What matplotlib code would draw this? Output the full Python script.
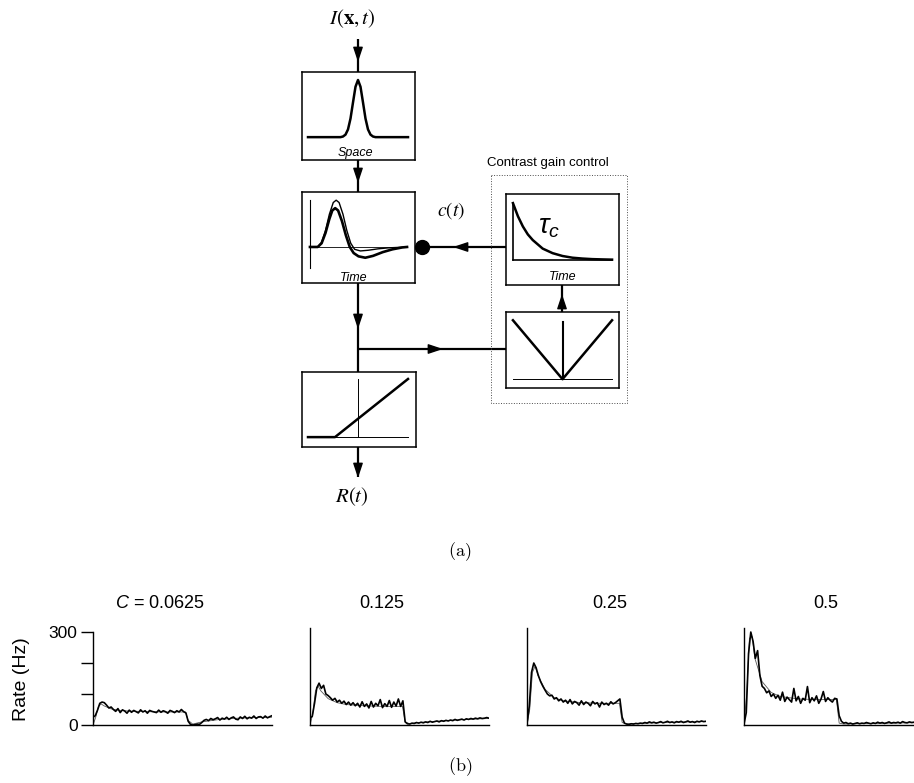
import numpy as np
import matplotlib
matplotlib.use('Agg')
import matplotlib.pyplot as plt

plt.rcParams['font.family'] = ['Liberation Sans', 'DejaVu Sans']
plt.rcParams['mathtext.fontset'] = 'custom'
plt.rcParams['mathtext.it'] = 'Liberation Sans:italic'
plt.rcParams['mathtext.rm'] = 'Liberation Sans'

W, H = 914, 783

# --- (a) little curves inside the boxes ---
space_x = [-1.0, -0.35, -0.3, -0.25, -0.2, -0.15, -0.1, -0.05, 0.0, 0.05, 0.1, 0.15, 0.2, 0.25, 0.3, 0.35, 1.0]
space_y = [0.0, 0.0, 0.011, 0.044, 0.135, 0.325, 0.607, 0.882, 1.0, 0.882, 0.607, 0.325, 0.135, 0.044, 0.011, 0.0, 0.0]

filt_t = [0.0, 0.08, 0.12, 0.16, 0.2, 0.24, 0.27, 0.3, 0.34, 0.38, 0.42, 0.46, 0.52, 0.6, 0.7, 0.8, 1.0]
filt_thin = [0.0, 0.0, 0.1, 0.35, 0.7, 0.95, 1.0, 0.95, 0.7, 0.35, 0.08, -0.05, -0.085, -0.07, -0.04, -0.02, 0.0]
filt_t2 = [0.0, 0.08, 0.12, 0.16, 0.2, 0.23, 0.26, 0.29, 0.33, 0.37, 0.41, 0.45, 0.5, 0.57, 0.65, 0.75, 0.85, 0.95, 1.0]
filt_thick = [0.0, 0.0, 0.08, 0.3, 0.6, 0.78, 0.83, 0.78, 0.55, 0.25, 0.0, -0.13, -0.2, -0.23, -0.19, -0.11, -0.05, -0.01, 0.0]

tau_t = [0.0, 0.05, 0.1, 0.15, 0.2, 0.3, 0.4, 0.5, 0.6, 0.7, 0.8, 0.9, 1.0]
tau_y = [1.0, 0.77, 0.59, 0.45, 0.35, 0.2, 0.12, 0.07, 0.04, 0.025, 0.015, 0.01, 0.006]

vee_x = [-1.0, 0.0, 1.0]
vee_y = [1.0, 0.0, 1.0]

rect_x = [-1.0, -0.46, 1.0]
rect_y = [0.0, 0.0, 1.0]

# --- (b) firing rates (Hz), stimulus on for the first 42 samples ---
contrasts = ['0.0625', '0.125', '0.25', '0.5']
dt = 0.025
rate_1 = [25, 30, 48, 70, 74, 72, 64, 55, 58,
          50, 44, 53, 40, 49, 45, 38, 48, 41, 47, 43, 39, 49, 42, 46, 38, 47, 44, 42, 40,
          48, 41, 46, 43, 38, 47, 44, 40, 46, 42, 50, 43, 39,
          12, 2, 0, 1, 3, 2, 8, 15, 18, 14, 21, 17, 20, 24, 16, 22, 19, 25, 18, 23,
          26, 19, 17, 26, 21, 28, 20, 25, 22, 29, 21, 26, 27, 22, 29, 23, 27, 30]
rate_2 = [22, 28, 70, 120, 135, 118, 128, 100, 95,
          88, 80, 86, 74, 80, 70, 77, 66, 74, 64, 72, 62, 70, 58, 75, 60, 68, 55, 76, 58,
          70, 62, 82, 56, 69, 60, 79, 57, 74, 61, 84, 60, 78,
          10, 4, 3, 6, 5, 8, 6, 9, 7, 10, 8, 12, 9, 11, 13, 10, 14, 12, 15, 13,
          16, 14, 18, 15, 17, 19, 16, 20, 18, 21, 19, 22, 20, 23, 21, 22, 24, 22]
rate_3 = [5, 60, 170, 200, 185, 160, 140, 125, 112,
          100, 94, 96, 84, 88, 78, 84, 74, 80, 70, 82, 68, 76, 72, 64, 78, 66, 74, 70, 62,
          76, 68, 72, 58, 74, 66, 70, 64, 75, 68, 72, 78, 84,
          25, 6, 3, 2, 4, 3, 5, 4, 6, 5, 8, 6, 10, 7, 9, 6, 8, 11, 7, 9,
          12, 8, 10, 7, 11, 9, 12, 8, 10, 13, 9, 11, 8, 12, 10, 13, 11, 12]
rate_4 = [3, 40, 230, 300, 270, 215, 240, 160, 125,
          118, 104, 110, 92, 100, 86, 96, 80, 106, 76, 90, 82, 74, 118, 78, 92, 70, 86, 80, 124,
          72, 88, 78, 94, 70, 84, 108, 76, 88, 80, 74, 86, 84,
          30, 12, 6, 8, 4, 6, 3, 5, 7, 4, 6, 5, 8, 6, 4, 7, 5, 9, 6, 8,
          5, 7, 10, 6, 8, 7, 9, 6, 11, 8, 7, 10, 8, 9, 12, 8, 10, 9]

model_t = [0.0, 0.03, 0.06, 0.09, 0.12, 0.2, 0.3, 0.4, 0.6, 0.8, 1.02, 1.05, 1.1, 1.2, 1.4, 1.6, 1.8, 1.975]
model_1 = [0, 25, 60, 68, 62, 52, 47, 45, 43, 42, 42, 15, 3, 10, 18, 22, 24, 25]
model_2 = [0, 35, 110, 125, 110, 85, 72, 66, 62, 60, 60, 10, 4, 8, 12, 16, 19, 21]
model_3 = [0, 50, 170, 190, 160, 115, 88, 78, 72, 70, 70, 8, 3, 5, 7, 9, 10, 11]
model_4 = [0, 100, 280, 285, 215, 140, 105, 92, 84, 82, 82, 6, 3, 4, 5, 6, 7, 8]

rates = [rate_1, rate_2, rate_3, rate_4]
models = [model_1, model_2, model_3, model_4]

fig = plt.figure(figsize=(W / 100, H / 100), dpi=100)


def px_axes(x0, y0, x1, y1):
    return fig.add_axes([x0 / W, 1 - y1 / H, (x1 - x0) / W, (y1 - y0) / H])


def box(x0, y0, x1, y1):
    a = px_axes(x0, y0, x1, y1)
    a.set_xticks([])
    a.set_yticks([])
    for s in a.spines.values():
        s.set_linewidth(1.1)
    return a


# space box
b1 = box(302, 72, 415, 160)
b1.plot(space_x, space_y, 'k', lw=1.8)
b1.set_xlim(-1.12, 1.14)
b1.set_ylim(-0.4, 1.14)
b1.text(-0.05, -0.27, 'Space', style='italic', fontsize=9, ha='center', va='center')

# temporal filter box
b2 = box(302, 192, 415, 283)
b2.plot(filt_t, filt_thin, 'k', lw=1.0)
b2.plot(filt_t2, filt_thick, 'k', lw=1.9)
b2.plot([0, 0], [-0.45, 1.0], 'k', lw=0.8)
b2.plot([0, 1], [0, 0], 'k', lw=0.6)
b2.set_xlim(-0.082, 1.082)
b2.set_ylim(-0.77, 1.175)
b2.text(0.45, -0.66, 'Time', style='italic', fontsize=9, ha='center', va='center')

# contrast time constant box
b3 = box(506, 194, 619, 285)
b3.plot(tau_t, tau_y, 'k', lw=1.8)
b3.plot([0, 0], [0, 1.0], 'k', lw=1.2)
b3.plot([0, 1], [0, 0], 'k', lw=1.2)
b3.set_xlim(-0.07, 1.07)
b3.set_ylim(-0.44, 1.16)
b3.text(0.36, 0.58, r'$\tau_c$', fontsize=20, math_fontfamily='custom', ha='center', va='center')
b3.text(0.5, -0.3, 'Time', style='italic', fontsize=9, ha='center', va='center')

# full-wave rectifier box
b4 = box(506, 312, 619, 388)
b4.plot(vee_x, vee_y, 'k', lw=1.8)
b4.plot([0, 0], [0, 0.97], 'k', lw=1.5)
b4.plot([-1, 1], [0, 0], 'k', lw=0.7)
b4.set_xlim(-1.14, 1.14)
b4.set_ylim(-0.15, 1.14)

# output nonlinearity box
b5 = box(302, 372, 416, 447)
b5.plot(rect_x, rect_y, 'k', lw=1.8)
b5.plot([0, 0], [0, 1.0], 'k', lw=0.7)
b5.plot([-1, 1], [0, 0], 'k', lw=0.7)
b5.set_xlim(-1.12, 1.16)
b5.set_ylim(-0.17, 1.12)

# overlay for arrows and labels
ov = fig.add_axes([0, 0, 1, 1])
ov.set_xlim(0, W)
ov.set_ylim(H, 0)
ov.axis('off')
ov.patch.set_alpha(0)

lines = [
    ((358, 39), (358, 72)),
    ((358, 160), (358, 192)),
    ((428, 247), (506, 247)),
    ((358, 283), (358, 372)),
    ((358, 349), (506, 349)),
    ((562, 312), (562, 285)),
    ((358, 447), (358, 477)),
]
for (xa, ya), (xb, yb) in lines:
    ov.plot([xa, xb], [ya, yb], 'k', lw=1.6, solid_capstyle='butt')

heads = [
    ((358, 49), (358, 62)),
    ((358, 170), (358, 183)),
    ((466, 247), (453, 247)),
    ((358, 316), (358, 329)),
    ((430, 349), (443, 349)),
    ((562, 306), (562, 294)),
    ((358, 465), (358, 478)),
]
for base, tip in heads:
    ov.annotate('', xy=tip, xytext=base,
                arrowprops=dict(arrowstyle='-|>,head_length=0.9,head_width=0.3',
                                color='k', lw=1.0, shrinkA=0, shrinkB=0))

ov.plot([422], [247], 'o', color='k', markersize=10)

# dotted outline of the gain control loop
ov.plot([491, 627, 627, 491, 491], [175, 175, 403, 403, 175], color='0.3', lw=0.7, ls=':')
ov.text(487, 163, 'Contrast gain control', fontsize=9.5, ha='left', va='center')

ov.text(352, 19, r'$I(\mathbf{x},t)$', fontsize=15, math_fontfamily='stix', ha='center', va='center')
ov.text(451, 211, r'$c(t)$', fontsize=14, math_fontfamily='stix', ha='center', va='center')
ov.text(352, 497, r'$R(t)$', fontsize=15, math_fontfamily='stix', ha='center', va='center')
ov.text(460, 552, r'$\mathrm{(a)}$', fontsize=13, math_fontfamily='cm', ha='center', va='center')
ov.text(460, 767, r'$\mathrm{(b)}$', fontsize=13, math_fontfamily='cm', ha='center', va='center')

# --- (b) rate panels ---
panel_x0 = [93, 310, 527, 744]
title_x = [160, 382, 610, 826]
t_data = np.arange(len(rate_1)) * dt
for k in range(4):
    x0 = panel_x0[k]
    if k == 0:
        a = px_axes(x0, 632, x0 + 179, 725)
        a.set_ylim(0, 300)
        a.set_yticks([0, 100, 200, 300])
        a.set_yticklabels(['0', '', '', '300'])
        a.tick_params(axis='y', length=9, width=1.0, labelsize=12.5, pad=2)
    else:
        a = px_axes(x0, 628, x0 + 179, 725)
        a.set_ylim(0, 313)
        a.set_yticks([])
    a.plot(model_t, models[k], color='0.35', lw=0.6)
    a.plot(t_data, rates[k], 'k', lw=1.2)
    a.set_xlim(0, t_data[-1])
    a.set_xticks([])
    a.spines['top'].set_visible(False)
    a.spines['right'].set_visible(False)
    a.spines['left'].set_linewidth(1.0)
    a.spines['bottom'].set_linewidth(1.0)
    a.patch.set_alpha(0)
    lbl = r'$C$ = ' + contrasts[k] if k == 0 else contrasts[k]
    ov.text(title_x[k], 604, lbl, fontsize=13, math_fontfamily='custom', ha='center', va='center')

ov.text(22, 679, 'Rate (Hz)', fontsize=14, rotation=90, ha='center', va='center')

fig.savefig('out.png', dpi=100)
